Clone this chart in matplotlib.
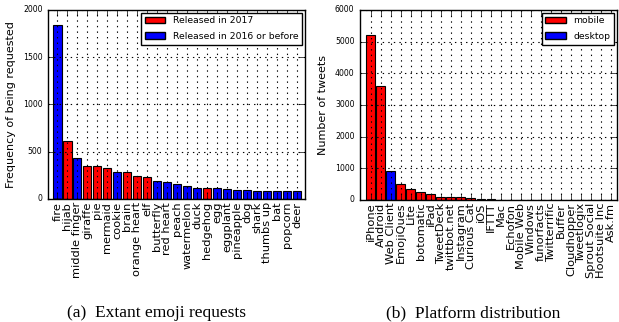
import numpy as np
import matplotlib.pyplot as plt

plt.style.use('classic')

# (a) extant emoji requests
emoji_names = ['fire', 'hijab', 'middle finger', 'giraffe', 'pie', 'mermaid', 'cookie',
               'brain', 'orange heart', 'elf', 'butterfly', 'red heart', 'peach',
               'watermelon', 'duck', 'hedgehog', 'egg', 'eggplant', 'pineapple', 'dog',
               'shark', 'thumbs up', 'bat', 'popcorn', 'deer']
emoji_counts = [1840, 610, 430, 354, 352, 330, 290, 283, 240, 234, 191, 177, 155,
                141, 117, 116, 115, 106, 96, 95, 89, 88, 85, 85, 84]
emoji_new = [False, True, False, True, True, True, False, True, True, True, False, False,
             False, False, False, True, False, False, False, False, False, False, False,
             False, False]

# (b) platform distribution
platforms = ['iPhone', 'Android', 'Web Client', 'EmojiQues', 'Lite', 'botomatic', 'iPad',
             'TweetDeck', 'twittbot.net', 'Instagram', 'Curious Cat', 'iOS', 'IFTTT', 'Mac',
             'Echofon', 'Mobile Web', 'Windows', 'funorfacts', 'Twitterrific', 'Buffer',
             'Cloudhopper', 'Tweetlogix', 'Sprout Social', 'Hootsuite Inc', 'Ask.fm']
tweet_counts = [5200, 3590, 915, 495, 357, 252, 199, 105, 84, 78, 60, 22, 16, 12,
                10, 8, 7, 6, 5, 5, 4, 4, 3, 3, 3]
is_desktop = [False, False, True] + [False] * 22

fig = plt.figure(figsize=(6.19, 3.22), dpi=100)
fig.patch.set_facecolor('white')

# left panel
ax1 = fig.add_axes([0.0775, 0.382, 0.415, 0.587])
x1 = np.arange(len(emoji_names))
cols1 = ['r' if n else 'b' for n in emoji_new]
ax1.bar(x1, emoji_counts, width=0.82, color=cols1, edgecolor='k', linewidth=0.8)
ax1.bar([0], [0], color='r', label='Released in 2017')
ax1.bar([0], [0], color='b', label='Released in 2016 or before')
ax1.set_xlim(-0.95, 24.8)
ax1.set_ylim(0, 2000)
ax1.set_yticks([0, 500, 1000, 1500, 2000])
ax1.set_xticks(x1)
ax1.set_xticklabels(emoji_names, rotation=90, fontsize=8.2)
ax1.tick_params(axis='y', labelsize=5.6)
ax1.tick_params(axis='x', pad=2)
ax1.set_ylabel('Frequency of being requested', fontsize=8)
ax1.grid(True, linewidth=0.8)
ax1.legend(loc='upper right', fontsize=6.7, borderaxespad=0.3, handlelength=2.2,
           labelspacing=0.7)

# right panel
ax2 = fig.add_axes([0.5816, 0.379, 0.415, 0.590])
x2 = np.arange(len(platforms))
cols2 = ['b' if d else 'r' for d in is_desktop]
ax2.bar(x2, tweet_counts, width=0.88, color=cols2, edgecolor='k', linewidth=0.8)
ax2.bar([0], [0], color='r', label='mobile')
ax2.bar([0], [0], color='b', label='desktop')
ax2.set_xlim(-1.05, 24.55)
ax2.set_ylim(0, 6000)
ax2.set_yticks(range(0, 6001, 1000))
ax2.set_xticks(x2)
ax2.set_xticklabels(platforms, rotation=90, fontsize=8.2)
ax2.tick_params(axis='y', labelsize=5.6)
ax2.tick_params(axis='x', pad=2)
ax2.set_ylabel('Number of tweets', fontsize=8)
ax2.grid(True, linewidth=0.8)
ax2.legend(loc='upper right', fontsize=6.7, borderaxespad=0.3, handlelength=2.2,
           labelspacing=0.7)

# captions
fig.text(0.253, 0.015, '(a)  Extant emoji requests', family='Liberation Serif',
         fontsize=12.5, ha='center')
fig.text(0.765, 0.015, '(b)  Platform distribution', family='Liberation Serif',
         fontsize=12.5, ha='center')

fig.savefig('out.png', dpi=100, facecolor='white')
